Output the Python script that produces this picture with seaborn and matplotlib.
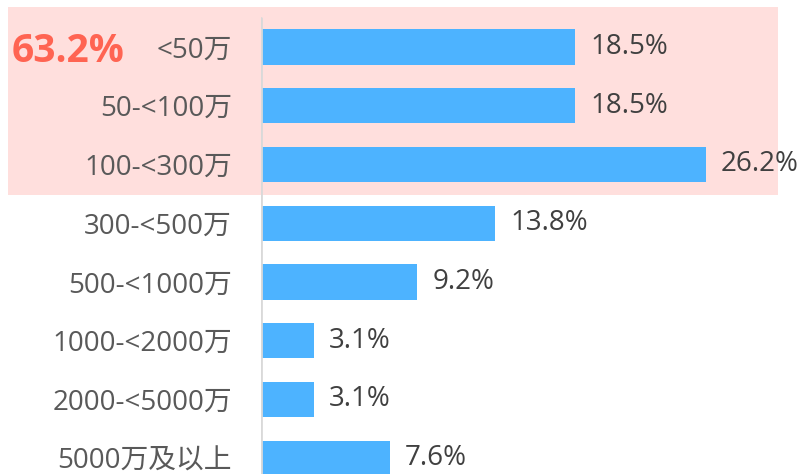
import matplotlib
matplotlib.use("Agg")
import matplotlib.pyplot as plt
import seaborn as sns
from matplotlib.patches import Rectangle

labels = ["<50万", "50-<100万", "100-<300万", "300-<500万", "500-<1000万",
          "1000-<2000万", "2000-<5000万", "5000万及以上"]
values = [18.5, 18.5, 26.2, 13.8, 9.2, 3.1, 3.1, 7.6]
highlight_text = "63.2%"

sns.set_style("white")
plt.rcParams['font.family'] = ['Open Sans', 'Noto Sans CJK SC', 'DejaVu Sans']

W, H = 801, 474
fig = plt.figure(figsize=(W / 100, H / 100), dpi=100)
fig.patch.set_facecolor("white")

# pink highlight behind the first three rows
fig.patches.append(Rectangle((8 / W, 1 - 195 / H), (778 - 8) / W, (195 - 7) / H,
                             transform=fig.transFigure, facecolor="#FFDFDD",
                             edgecolor="none", zorder=-5))

ax = fig.add_axes([261 / W, 0, 1 - 261 / W, 1])
ax.set_zorder(1)
ax.patch.set_alpha(0)
sns.barplot(x=values, y=labels, orient="h", color="#4DB3FF", width=0.6,
            saturation=1, linewidth=0, ax=ax)
ax.set_xlim(0, (W - 261) / 16.97)
ax.set_ylim(7.27, -0.80)

for i, v in enumerate(values):
    ax.annotate(f"{v}%", (v, i), xytext=(11, 0), textcoords="offset points",
                va="center", ha="left", fontsize=20, color="#404040")

for s in ax.spines.values():
    s.set_visible(False)
ax.axvline(0, ymin=0, ymax=(H - 18) / H, color="#d9d9d9", lw=2)
ax.set_xticks([])
ax.set_xlabel("")
ax.set_ylabel("")
ax.tick_params(axis="y", length=0, pad=21, labelsize=20, labelcolor="#595959")

fig.text(12 / W, 1 - 51 / H, highlight_text, fontsize=28, fontweight="bold",
         color="#FF6452", va="center", ha="left")

fig.savefig("out.png", dpi=100)
